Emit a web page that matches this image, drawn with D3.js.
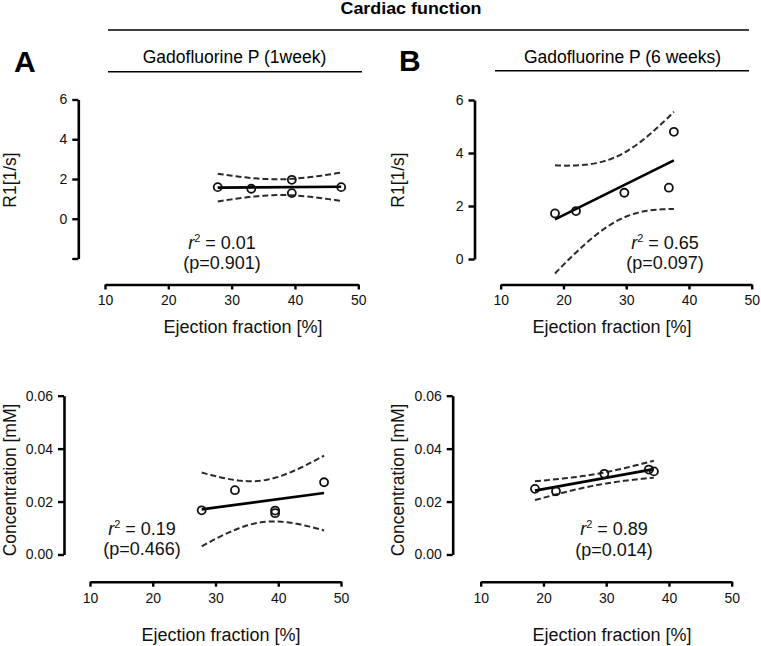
<!DOCTYPE html>
<html>
<head>
<meta charset="utf-8">
<script src="https://cdn.jsdelivr.net/npm/d3@7"></script>
<style>
  html, body { margin: 0; padding: 0; background: #fff; }
  svg { display: block; font-family: "Liberation Sans", Arial, Helvetica, sans-serif; }
</style>
</head>
<body>
<svg id="chart" width="761" height="646"></svg>
<script>
// ---------------- data ----------------
const efWeek1 = [27.8, 33.1, 39.5, 39.5, 47.3];
const r1Week1 = [1.59, 1.51, 1.96, 1.29, 1.59];
const concWeek1 = [0.0167, 0.0243, 0.0166, 0.0156, 0.0273];

const efWeek6 = [18.65, 22.0, 29.7, 36.8, 37.6];
const r1Week6 = [1.72, 1.81, 2.50, 2.69, 4.80];
const concWeek6 = [0.0248, 0.0239, 0.0305, 0.0321, 0.0314];

const xTicks = [10, 20, 30, 40, 50];
const r1TicksWeek1 = [-2, 0, 2, 4, 6];
const r1TicksWeek6 = [0, 2, 4, 6];
const concTicks = [0, 0.02, 0.04, 0.06];

const r2Labels = ["0.01", "0.65", "0.19", "0.89"];
const pLabels = ["0.901", "0.097", "0.466", "0.014"];

const mainTitle = "Cardiac function";
const groupTitles = ["Gadofluorine P (1week)", "Gadofluorine P (6 weeks)"];
const panelLetters = ["A", "B"];
const xTitle = "Ejection fraction [%]";
const yTitles = ["R1[1/s]", "Concentration [mM]"];

const T95_DF3 = 3.182; // Student t, 95%, df = n - 2 = 3

// ---------------- layout ----------------
const svg = d3.select("#chart");
const FONT = "\"Liberation Sans\", Arial, Helvetica, sans-serif";

const panels = [
  { xs: efWeek1, ys: r1Week1, yDomain: [-2, 6], yTicks: r1TicksWeek1, fmt: v => v === -2 ? "" : d3.format("d")(v),
    xRange: [105, 358.3], yRange: [258.5, 99.5], yAxisX: 78.3, xAxisY: 284.5,
    yTitle: yTitles[0], yTitleX: 16, yTitleY: 180, xTitleX: 243, xTitleY: 333,
    statX: 222, statY1: 249, statY2: 269, stat: 0 },
  { xs: efWeek6, ys: r1Week6, yDomain: [0, 6], yTicks: r1TicksWeek6, fmt: d3.format("d"),
    xRange: [500.7, 751.7], yRange: [259, 100], yAxisX: 474.5, xAxisY: 284.5,
    yTitle: yTitles[0], yTitleX: 404, yTitleY: 180, xTitleX: 612, xTitleY: 333,
    statX: 665, statY1: 249, statY2: 269, stat: 1 },
  { xs: efWeek1, ys: concWeek1, yDomain: [0, 0.06], yTicks: concTicks, fmt: d3.format(".2f"),
    xRange: [90, 341], yRange: [554.5, 395.7], yAxisX: 64, xAxisY: 581.7,
    yTitle: yTitles[1], yTitleX: 16, yTitleY: 480, xTitleX: 221, xTitleY: 641,
    statX: 142, statY1: 535, statY2: 555, stat: 2 },
  { xs: efWeek6, ys: concWeek6, yDomain: [0, 0.06], yTicks: concTicks, fmt: d3.format(".2f"),
    xRange: [480.7, 731.7], yRange: [554.5, 395.7], yAxisX: 452.7, xAxisY: 581.7,
    yTitle: yTitles[1], yTitleX: 404, yTitleY: 480, xTitleX: 612, xTitleY: 641,
    statX: 614, statY1: 535, statY2: 556, stat: 3 }
];

function regress(xs, ys) {
  const n = xs.length;
  const mx = d3.mean(xs), my = d3.mean(ys);
  let sxx = 0, sxy = 0, syy = 0;
  for (let i = 0; i < n; i++) {
    const dx = xs[i] - mx, dy = ys[i] - my;
    sxx += dx * dx; sxy += dx * dy; syy += dy * dy;
  }
  const b = sxy / sxx, a = my - b * mx;
  const s = Math.sqrt((syy - sxy * sxy / sxx) / (n - 2));
  const half = x => T95_DF3 * s * Math.sqrt(1 / n + (x - mx) * (x - mx) / sxx);
  return { fit: x => a + b * x, half };
}

// ---------------- header ----------------
svg.append("text").attr("x", 411).attr("y", 14).attr("text-anchor", "middle")
  .attr("font-size", 16).attr("font-weight", "bold").attr("textLength", 141)
  .attr("lengthAdjust", "spacingAndGlyphs").text(mainTitle);
svg.append("line").attr("x1", 108).attr("x2", 749).attr("y1", 30).attr("y2", 30)
  .attr("stroke", "#000").attr("stroke-width", 1.5);

const groupCfg = [
  { letterX: 14, letterY: 72, titleX: 234.5, lineX1: 108, lineX2: 362, lineY: 71.7 },
  { letterX: 399, letterY: 71, titleX: 622.5, lineX1: 495, lineX2: 749, lineY: 70.7 }
];
groupCfg.forEach((g, i) => {
  svg.append("text").attr("x", g.letterX).attr("y", g.letterY)
    .attr("font-size", 30).attr("font-weight", "bold").text(panelLetters[i]);
  svg.append("text").attr("x", g.titleX).attr("y", 63).attr("text-anchor", "middle")
    .attr("font-size", 17.5).text(groupTitles[i]);
  svg.append("line").attr("x1", g.lineX1).attr("x2", g.lineX2).attr("y1", g.lineY).attr("y2", g.lineY)
    .attr("stroke", "#000").attr("stroke-width", 1.5);
});

// ---------------- panels ----------------
panels.forEach(p => {
  const x = d3.scaleLinear().domain([10, 50]).range(p.xRange);
  const y = d3.scaleLinear().domain(p.yDomain).range(p.yRange);
  const g = svg.append("g");

  // y axis
  const ya = g.append("g").attr("transform", `translate(${p.yAxisX},0)`)
    .call(d3.axisLeft(y).tickValues(p.yTicks).tickFormat(p.fmt).tickSize(6).tickSizeOuter(0).tickPadding(5));
  // x axis
  const xa = g.append("g").attr("transform", `translate(0,${p.xAxisY})`)
    .call(d3.axisBottom(x).tickValues(xTicks).tickFormat(d3.format("d")).tickSize(5).tickSizeOuter(0).tickPadding(6));
  [ya, xa].forEach(a => {
    a.select(".domain").attr("stroke", "#000").attr("stroke-width", 2.6);
    a.selectAll(".tick line").attr("stroke", "#000").attr("stroke-width", 2.4);
    a.selectAll(".tick text").attr("fill", "#111").attr("font-size", 14).attr("font-family", FONT);
  });

  // axis titles
  g.append("text").attr("transform", `translate(${p.yTitleX},${p.yTitleY}) rotate(-90)`)
    .attr("text-anchor", "middle").attr("font-size", 17.5).attr("fill", "#111").text(p.yTitle);
  g.append("text").attr("x", p.xTitleX).attr("y", p.xTitleY).attr("text-anchor", "middle")
    .attr("font-size", 18).attr("fill", "#111").text(xTitle);

  // regression + 95% confidence band
  const r = regress(p.xs, p.ys);
  const [xmin, xmax] = d3.extent(p.xs);
  const grid = d3.range(0, 41).map(i => xmin + (xmax - xmin) * i / 40);
  const upper = d3.line().x(v => x(v)).y(v => y(r.fit(v) + r.half(v)));
  const lower = d3.line().x(v => x(v)).y(v => y(r.fit(v) - r.half(v)));
  [upper, lower].forEach(fn => {
    g.append("path").attr("d", fn(grid)).attr("fill", "none").attr("stroke", "#2a2a2a")
      .attr("stroke-width", 2).attr("stroke-dasharray", "6,3");
  });
  g.append("line").attr("x1", x(xmin)).attr("x2", x(xmax))
    .attr("y1", y(r.fit(xmin))).attr("y2", y(r.fit(xmax)))
    .attr("stroke", "#000").attr("stroke-width", 2.6);

  // points
  g.selectAll("circle.pt").data(p.xs.map((v, i) => [v, p.ys[i]])).join("circle")
    .attr("class", "pt").attr("cx", d => x(d[0])).attr("cy", d => y(d[1])).attr("r", 4)
    .attr("fill", "none").attr("stroke", "#111").attr("stroke-width", 1.8);

  // statistics
  const t1 = g.append("text").attr("x", p.statX).attr("y", p.statY1).attr("text-anchor", "middle")
    .attr("font-size", 18).attr("fill", "#111");
  t1.append("tspan").attr("font-style", "italic").text("r");
  t1.append("tspan").attr("font-size", 11).attr("dy", -7).text("2");
  t1.append("tspan").attr("dy", 7).text(" = " + r2Labels[p.stat]);
  g.append("text").attr("x", p.statX).attr("y", p.statY2).attr("text-anchor", "middle")
    .attr("font-size", 18).attr("fill", "#111").text("(p=" + pLabels[p.stat] + ")");
});
</script>
</body>
</html>
